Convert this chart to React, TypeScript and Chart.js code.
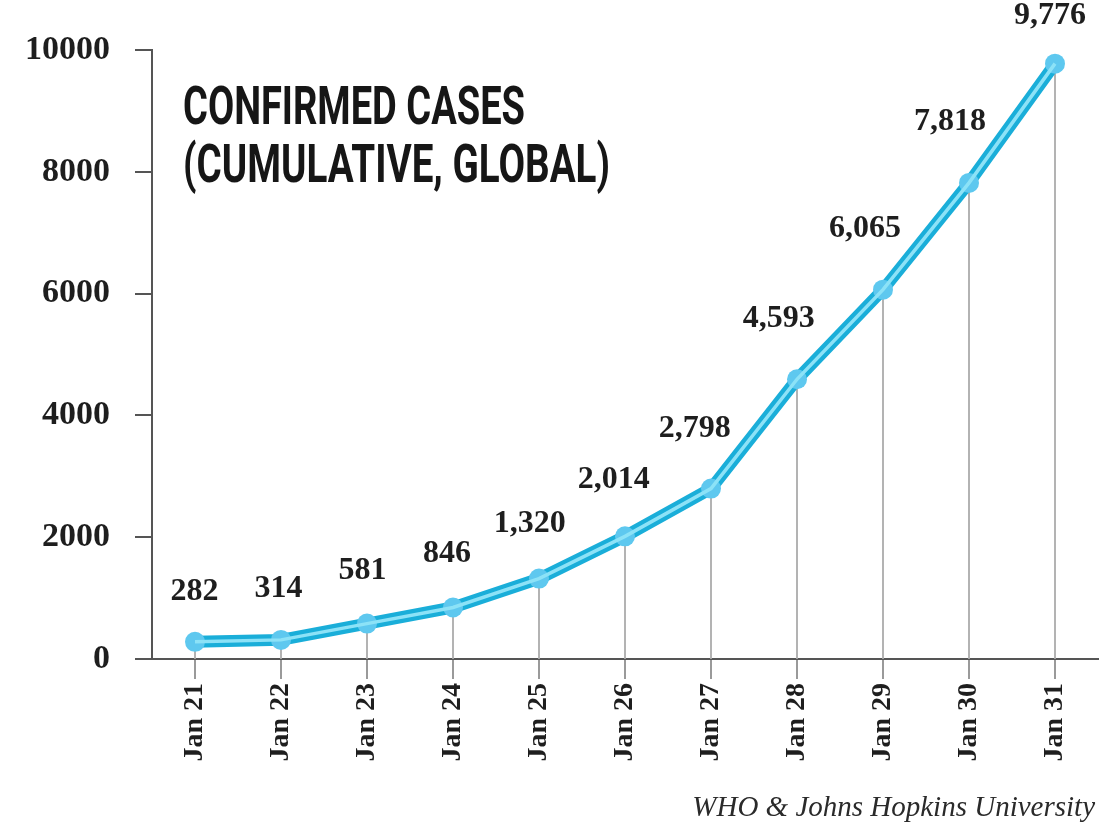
import React, { useEffect, useRef } from "react";
import { Chart, registerables } from "chart.js";

Chart.register(...registerables);

const categories = ["Jan 21", "Jan 22", "Jan 23", "Jan 24", "Jan 25", "Jan 26", "Jan 27", "Jan 28", "Jan 29", "Jan 30", "Jan 31"];
const confirmedCases = [282, 314, 581, 846, 1320, 2014, 2798, 4593, 6065, 7818, 9776];
const yTicks = [0, 2000, 4000, 6000, 8000, 10000];
const titleLines = ["CONFIRMED CASES", "(CUMULATIVE, GLOBAL)"];
const sourceText = "WHO & Johns Hopkins University";

const SERIF = '"Liberation Serif", "DejaVu Serif", serif';

const chromePlugin = {
  id: "chrome",
  beforeDraw(chart: any) {
    const ctx = chart.ctx;
    ctx.save();
    ctx.fillStyle = "#ffffff";
    ctx.fillRect(0, 0, chart.width, chart.height);
    ctx.restore();
  },
  beforeDatasetsDraw(chart: any) {
    const ctx = chart.ctx;
    const meta = chart.getDatasetMeta(0);
    const bottom = chart.chartArea.bottom;
    ctx.save();
    ctx.strokeStyle = "#ababab";
    ctx.lineWidth = 1.8;
    meta.data.forEach((pt: any) => {
      ctx.beginPath();
      ctx.moveTo(pt.x, pt.y);
      ctx.lineTo(pt.x, bottom);
      ctx.stroke();
    });
    ctx.restore();
  },
  afterDraw(chart: any) {
    const ctx = chart.ctx;
    const meta = chart.getDatasetMeta(0);
    const pts = meta.data;
    // data labels
    ctx.save();
    ctx.fillStyle = "#1e1e1e";
    ctx.font = `bold 32px ${SERIF}`;
    ctx.textAlign = "center";
    ctx.textBaseline = "middle";
    pts.forEach((pt: any, i: number) => {
      const prev = pts[Math.max(0, i - 1)];
      const next = pts[Math.min(pts.length - 1, i + 1)];
      const tx = next.x - prev.x;
      const ty = next.y - prev.y;
      const len = Math.hypot(tx, ty) || 1;
      const nx = ty / len; // normal pointing up-left (negative when rising)
      let cx = pt.x + 24 * nx;
      let cy = pt.y - 50 + 14 * nx;
      if (i === pts.length - 1) {
        cx = pt.x - 5;
      }
      cy = Math.max(16, cy);
      const v = confirmedCases[i];
      ctx.fillText(v.toLocaleString("en-US"), cx, cy);
    });
    ctx.restore();

    // title
    ctx.save();
    ctx.fillStyle = "#161616";
    ctx.font = "bold 54px Roboto, sans-serif";
    ctx.textBaseline = "alphabetic";
    ctx.textAlign = "left";
    const widths = [342, 427];
    const baselines = [124, 182];
    titleLines.forEach((line, i) => {
      const w = ctx.measureText(line).width;
      ctx.save();
      ctx.translate(183, baselines[i]);
      ctx.scale(widths[i] / w, 1);
      ctx.fillText(line, 0, 0);
      ctx.restore();
    });
    ctx.restore();

    // source
    ctx.save();
    ctx.fillStyle = "#2a2a2a";
    ctx.font = `italic 29px ${SERIF}`;
    ctx.textAlign = "right";
    ctx.textBaseline = "alphabetic";
    ctx.fillText(sourceText, 1095, 816);
    ctx.restore();
  },
};

export default function App() {
  const canvasRef = useRef<HTMLCanvasElement | null>(null);

  useEffect(() => {
    document.body.style.margin = "0";
    const canvas = canvasRef.current;
    if (!canvas) return;
    const chart = new Chart(canvas, {
      type: "line",
      data: {
        labels: categories,
        datasets: [
          {
            label: "outer",
            data: confirmedCases,
            borderColor: "#1aaed9",
            borderWidth: 12,
            pointRadius: 10,
            pointBackgroundColor: "#5ec8ef",
            pointBorderWidth: 0,
            tension: 0,
            order: 2,
          },
          {
            label: "inner",
            data: confirmedCases,
            borderColor: "#8ce2f7",
            borderWidth: 3.5,
            pointRadius: 0,
            tension: 0,
            order: 1,
          },
        ],
      },
      options: {
        responsive: false,
        animation: false,
        maintainAspectRatio: false,
        layout: { padding: { left: 0, top: 50, right: 11, bottom: 0 } },
        plugins: {
          legend: { display: false },
          tooltip: { enabled: false },
          title: { display: false },
        },
        scales: {
          x: {
            type: "category",
            offset: true,
            afterFit: (s: any) => {
              s.height = 170;
            },
            grid: {
              offset: false,
              drawOnChartArea: false,
              drawTicks: true,
              tickLength: 20,
              color: "#9a9a9a",
              lineWidth: 2,
            },
            border: { display: true, color: "#555555", width: 2 },
            ticks: {
              minRotation: 90,
              maxRotation: 90,
              padding: 4,
              color: "#1e1e1e",
              font: { family: SERIF, size: 28, weight: "bold" },
            },
          },
          y: {
            min: 0,
            max: 10000,
            afterFit: (s: any) => {
              s.width = 152;
            },
            afterBuildTicks: (s: any) => {
              s.ticks = yTicks.map((v) => ({ value: v }));
            },
            grid: {
              drawOnChartArea: false,
              drawTicks: true,
              tickLength: 17,
              color: "#555555",
              lineWidth: 2,
            },
            border: { display: true, color: "#555555", width: 2 },
            ticks: {
              padding: 25,
              color: "#1e1e1e",
              font: { family: SERIF, size: 34, weight: "bold" },
              callback: (v: any) => String(v),
            },
          },
        },
      },
      plugins: [chromePlugin],
    });
    return () => chart.destroy();
  }, []);

  return (
    <div style={{ position: "fixed", left: 0, top: 0, width: 1109, height: 829, background: "#fff" }}>
      <canvas ref={canvasRef} width={1109} height={829} style={{ width: 1109, height: 829, display: "block" }} />
    </div>
  );
}
